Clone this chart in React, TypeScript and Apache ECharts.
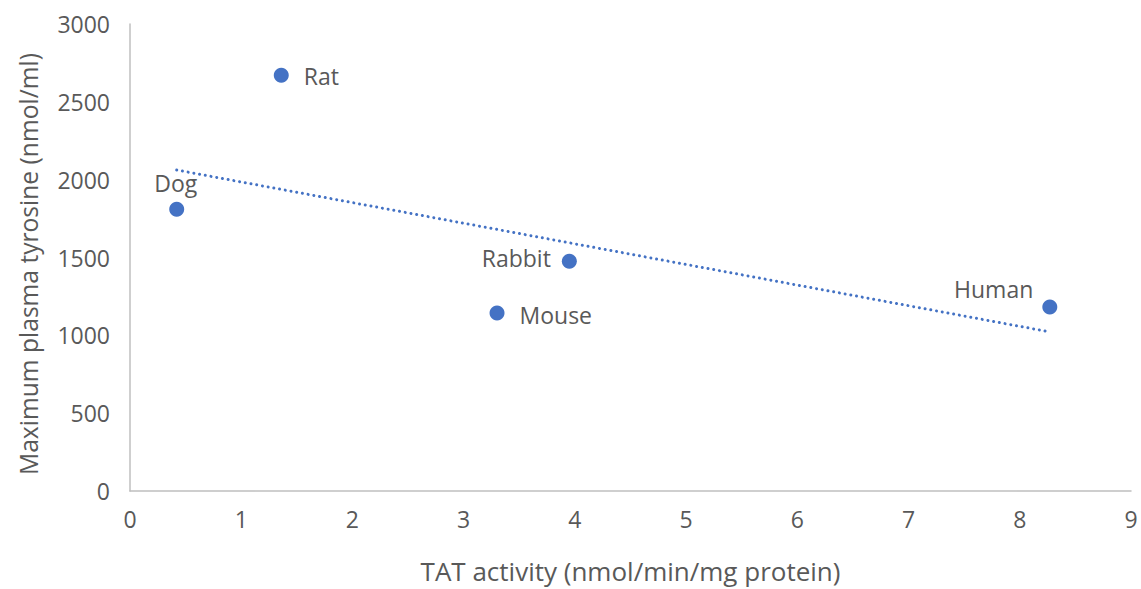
import React, { useEffect, useRef } from "react";
import * as echarts from "echarts";

const species = ["Rat", "Dog", "Rabbit", "Mouse", "Human"];
const tatActivity = [1.36, 0.42, 3.95, 3.3, 8.27];
const maxTyrosine = [2670, 1810, 1476, 1144, 1182];

// trendline end points
const trendX = [0.42, 8.27];
const trendY = [2062, 1022];

const xTicks = [0, 9, 1];
const yTicks = [0, 3000, 500];

const xTitle = "TAT activity (nmol/min/mg protein)";
const yTitle = "Maximum plasma tyrosine (nmol/ml)";

const labelPlacement: Record<string, any> = {
  Rat: { position: "right", distance: 15, offset: [0, 1] },
  Dog: { position: "top", distance: 8, offset: [-1, 1] },
  Rabbit: { position: "left", distance: 11, offset: [0, -3] },
  Mouse: { position: "right", distance: 15, offset: [0, 2] },
  Human: { position: "left", distance: 9, offset: [0, -18] },
};

const FONT = "'Open Sans', 'Noto Sans', sans-serif";
const GREY = "#595959";
const BLUE = "#4472C4";

export default function App() {
  const ref = useRef<HTMLDivElement>(null);
  useEffect(() => {
    if (!ref.current) return;
    const chart = echarts.init(ref.current, undefined, { renderer: "svg" });
    chart.setOption({
      animation: false,
      backgroundColor: "#ffffff",
      grid: { left: 130, right: 10, top: 24, bottom: 92, containLabel: false },
      graphic: [
        {
          type: "text",
          x: 28,
          y: 264,
          rotation: Math.PI / 2,
          style: {
            text: yTitle,
            fontFamily: FONT,
            fontSize: 24.6,
            fill: GREY,
            align: "center",
            verticalAlign: "middle",
          },
        },
      ],
      xAxis: {
        type: "value",
        min: xTicks[0],
        max: xTicks[1],
        interval: xTicks[2],
        name: xTitle,
        nameLocation: "middle",
        nameGap: 67,
        nameTextStyle: { fontFamily: FONT, fontSize: 26, color: GREY },
        axisLine: { show: true, lineStyle: { color: "#BFBFBF", width: 1.5 } },
        axisTick: { show: false },
        splitLine: { show: false },
        axisLabel: {
          fontFamily: FONT,
          fontSize: 23,
          color: GREY,
          margin: 16,
          formatter: (v: number) => String(v),
        },
      },
      yAxis: {
        type: "value",
        min: yTicks[0],
        max: yTicks[1],
        interval: yTicks[2],
        axisLine: { show: true, lineStyle: { color: "#BFBFBF", width: 1.5 } },
        axisTick: { show: false },
        splitLine: { show: false },
        axisLabel: {
          fontFamily: FONT,
          fontSize: 23,
          color: GREY,
          margin: 20,
          formatter: (v: number) => String(v),
        },
      },
      series: [
        {
          type: "line",
          data: trendX.map((x, i) => [x, trendY[i]]),
          symbol: "none",
          lineStyle: { color: BLUE, width: 3, type: [0.01, 5.8], cap: "round" },
          z: 1,
          silent: true,
        },
        {
          type: "scatter",
          symbolSize: 15,
          itemStyle: { color: BLUE, opacity: 1 },
          z: 2,
          data: species.map((name, i) => ({
            name,
            value: [tatActivity[i], maxTyrosine[i]],
            label: {
              show: true,
              formatter: name,
              fontFamily: FONT,
              fontSize: 23,
              color: GREY,
              ...labelPlacement[name],
            },
          })),
        },
      ],
    });
    return () => chart.dispose();
  }, []);
  return (
    <div
      ref={ref}
      style={{ position: "absolute", left: 0, top: 0, width: 1141, height: 589 }}
    />
  );
}
